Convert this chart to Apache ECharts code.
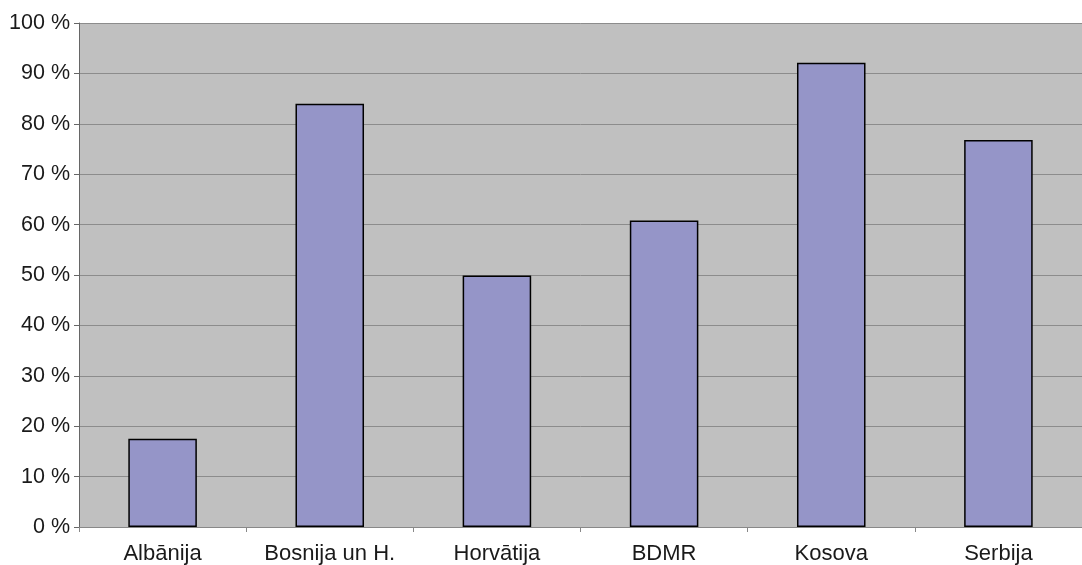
<!DOCTYPE html>
<html>
<head>
<meta charset="utf-8">
<script src="https://cdn.jsdelivr.net/npm/echarts@6/dist/echarts.min.js"></script>
<style>
  html, body { margin: 0; padding: 0; background: #ffffff; }
  #chart { width: 1082px; height: 565px; }
</style>
</head>
<body>
<div id="chart"></div>
<script>
// Share per country, in percent
const categories = ['Albānija', 'Bosnija un H.', 'Horvātija', 'BDMR', 'Kosova', 'Serbija'];
const values = [17.5, 84, 49.9, 60.8, 92.1, 76.8];

const chart = echarts.init(document.getElementById('chart'), null, { renderer: 'canvas' });
const font = 'Liberation Sans, Arial, sans-serif';

chart.setOption({
  animation: false,
  backgroundColor: '#ffffff',
  grid: {
    left: 79, right: 0, top: 23, bottom: 38,
    show: true, backgroundColor: '#c0c0c0', borderWidth: 0
  },
  xAxis: {
    type: 'category',
    data: categories,
    axisLine: { show: true, lineStyle: { color: '#888888', width: 1 } },
    axisTick: { show: true, interval: 0, alignWithLabel: false, length: 5, lineStyle: { color: '#888888' } },
    axisLabel: { interval: 0, hideOverlap: false, color: '#1a1a1a', fontFamily: font, fontSize: 22, margin: 16 }
  },
  yAxis: {
    type: 'value',
    min: 0, max: 100, interval: 10,
    axisLine: { show: true, lineStyle: { color: '#666666', width: 1 } },
    axisTick: { show: true, length: 5, lineStyle: { color: '#666666' } },
    axisLabel: { color: '#1a1a1a', fontFamily: font, fontSize: 21.5, margin: 9,
      formatter: v => v + ' %' },
    splitLine: { show: true, lineStyle: { color: '#8c8c8c', width: 1 } }
  },
  series: [{
    type: 'bar',
    data: values,
    barWidth: '41%',
    itemStyle: { color: '#9595c8', borderColor: '#000000', borderWidth: 1.5 }
  }]
});
</script>
</body>
</html>
